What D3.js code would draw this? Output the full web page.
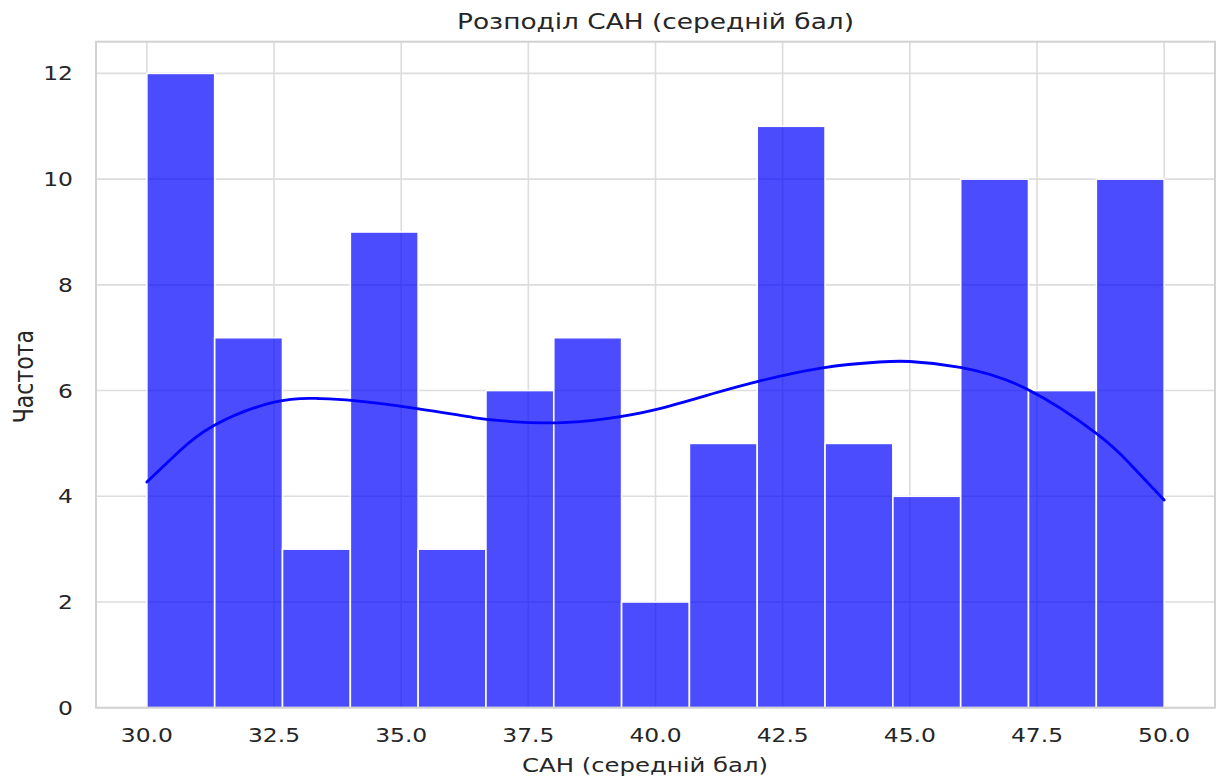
<!DOCTYPE html>
<html>
<head>
<meta charset="utf-8">
<script src="https://cdn.jsdelivr.net/npm/d3@7"></script>
<style>
  body { margin: 0; background: #fff; }
  text { font-family: "DejaVu Sans", sans-serif; fill: #262626; }
</style>
</head>
<body>
<div id="chart"></div>
<script>
// histogram counts (15 bins between 30 and 50)
var binStart = 30, binEnd = 50;
var counts = [12, 7, 3, 9, 3, 6, 7, 2, 5, 11, 5, 4, 10, 6, 10];

// kde curve
var kdeX = [30.0, 30.6, 31.32, 32.5, 33.35, 34.07, 35.31, 36.42, 37.08, 38.06, 39.04, 40.0, 41.12, 42.04, 43.29, 44.4, 45.0, 45.99, 47.3, 48.68, 49.32, 50.0];
var kdeY = [4.27, 4.82, 5.34, 5.78, 5.85, 5.81, 5.66, 5.49, 5.42, 5.39, 5.47, 5.64, 5.94, 6.18, 6.43, 6.54, 6.55, 6.44, 6.03, 5.18, 4.62, 3.93];

var xTicks = [30.0, 32.5, 35.0, 37.5, 40.0, 42.5, 45.0, 47.5, 50.0];
var yTicks = [0, 2, 4, 6, 8, 10, 12];

var title = "Розподіл САН (середній бал)";
var xLabel = "САН (середній бал)";
var yLabel = "Частота";

var W = 1219, H = 779;
var margin = {top: 41.7, right: 4, bottom: 71.3, left: 96},
    width = W - margin.left - margin.right,
    height = H - margin.top - margin.bottom;

var stretch = 1.2; // text in the picture is a bit wide

var svg = d3.select("#chart")
  .append("svg")
    .attr("width", W)
    .attr("height", H);

var g = svg.append("g")
    .attr("transform", "translate(" + margin.left + "," + margin.top + ")");

var x = d3.scaleLinear().domain([29, 51]).range([0, width]);
var y = d3.scaleLinear().domain([0, 12.6]).range([height, 0]);

// grid
g.append("g").selectAll("line.vx")
  .data(xTicks).enter().append("line")
    .attr("x1", d => x(d)).attr("x2", d => x(d))
    .attr("y1", 0).attr("y2", height)
    .attr("stroke", "#dddddd").attr("stroke-width", 1.6);
g.append("g").selectAll("line.hy")
  .data(yTicks).enter().append("line")
    .attr("x1", 0).attr("x2", width)
    .attr("y1", d => y(d)).attr("y2", d => y(d))
    .attr("stroke", "#dddddd").attr("stroke-width", 1.6);

// bars
var bw = (binEnd - binStart) / counts.length;
var bins = counts.map((c, i) => ({x0: binStart + i * bw, x1: binStart + (i + 1) * bw, n: c}));

g.append("g").selectAll("rect")
  .data(bins).enter().append("rect")
    .attr("x", d => x(d.x0))
    .attr("y", d => y(d.n))
    .attr("width", d => x(d.x1) - x(d.x0))
    .attr("height", d => y(0) - y(d.n))
    .attr("fill", "blue").attr("fill-opacity", 0.7)
    .attr("stroke", "#fff").attr("stroke-width", 1.6);

// kde
var kde = kdeX.map((v, i) => [v, kdeY[i]]);
g.append("path")
  .datum(kde)
  .attr("fill", "none")
  .attr("stroke", "blue")
  .attr("stroke-width", 2.8)
  .attr("stroke-linecap", "round")
  .attr("d", d3.line().x(d => x(d[0])).y(d => y(d[1])).curve(d3.curveNatural));

// frame
g.append("rect")
  .attr("x", 0).attr("y", 0).attr("width", width).attr("height", height)
  .attr("fill", "none").attr("stroke", "#d2d2d2").attr("stroke-width", 2);

// ticks
g.append("g").selectAll("text")
  .data(xTicks).enter().append("text")
    .attr("transform", d => "translate(" + x(d) + "," + (741.7 - margin.top) + ") scale(" + stretch + ",1)")
    .attr("text-anchor", "middle")
    .style("font-size", "19.5px")
    .text(d => d.toFixed(1));

g.append("g").selectAll("text")
  .data(yTicks).enter().append("text")
    .attr("transform", d => "translate(" + (73 - margin.left) + "," + y(d) + ") scale(" + stretch + ",1)")
    .attr("text-anchor", "end")
    .attr("dy", "0.36em")
    .style("font-size", "19.5px")
    .text(d => d);

// title and axis labels
svg.append("text")
  .attr("transform", "translate(" + (margin.left + width / 2) + ",29) scale(" + stretch + ",1)")
  .attr("text-anchor", "middle")
  .style("font-size", "22px")
  .text(title);

svg.append("text")
  .attr("transform", "translate(645,772) scale(" + stretch + ",1)")
  .attr("text-anchor", "middle")
  .style("font-size", "20.3px")
  .text(xLabel);

svg.append("text")
  .attr("transform", "translate(32.7," + (margin.top + height / 2 + 2) + ") scale(" + stretch + ",1) rotate(-90)")
  .attr("text-anchor", "middle")
  .style("font-size", "22px")
  .text(yLabel);
</script>
</body>
</html>
